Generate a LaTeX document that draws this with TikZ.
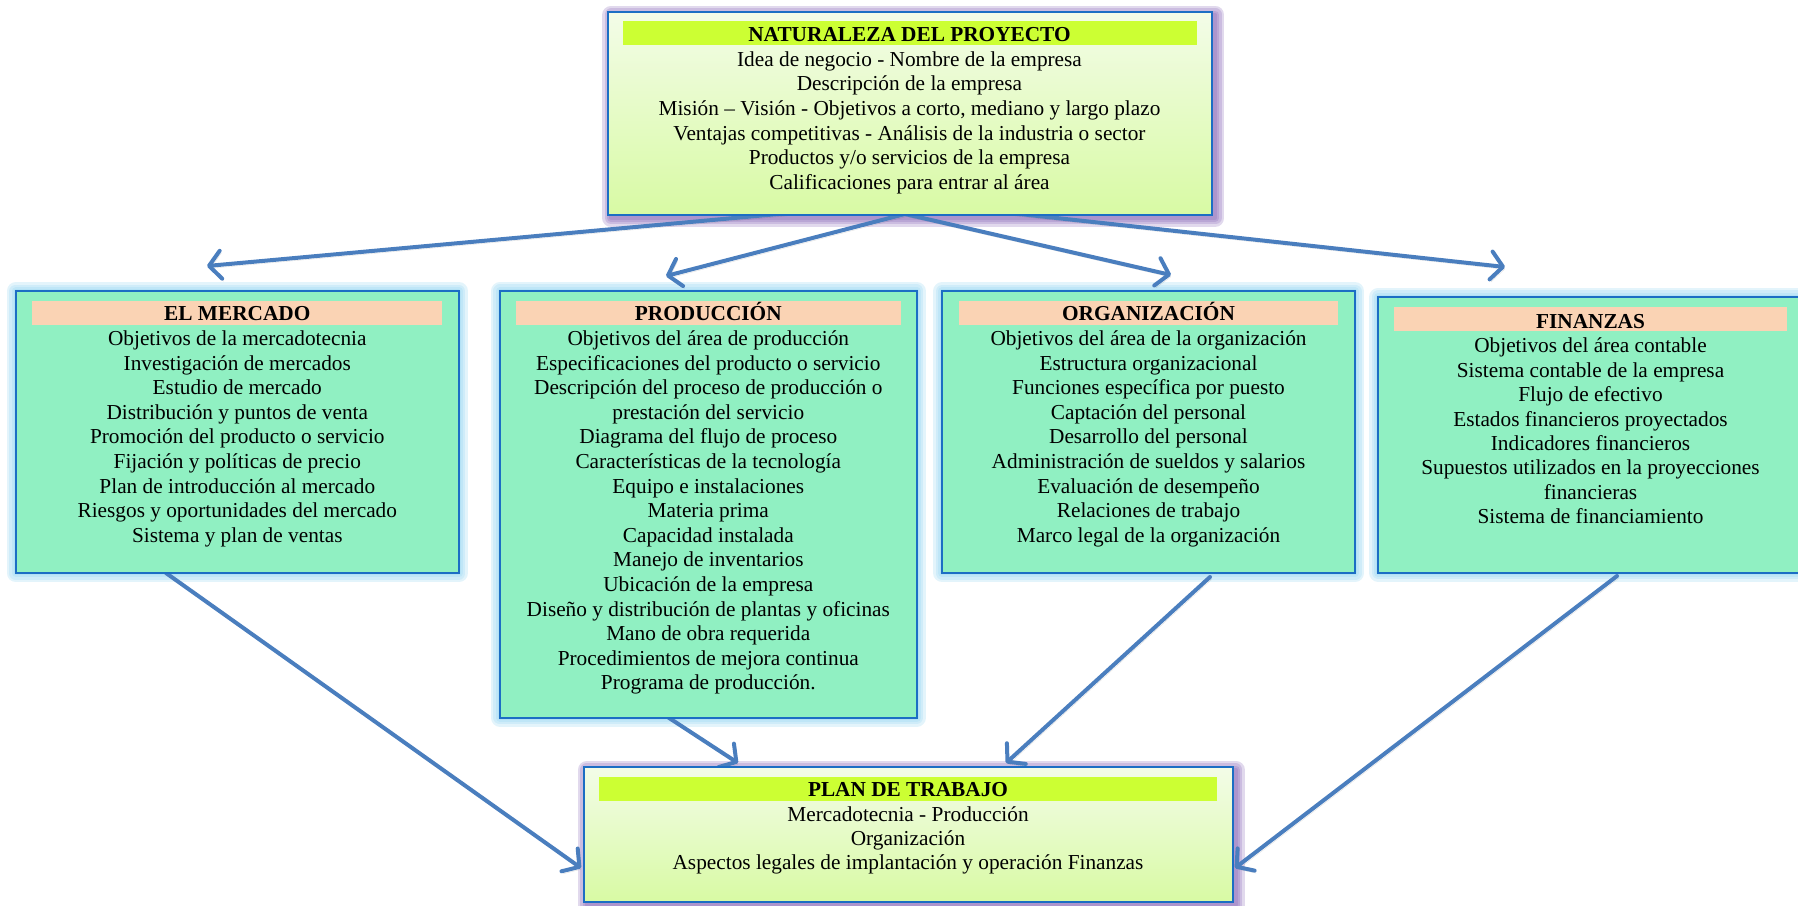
\documentclass[tikz,border=0pt]{standalone}
\usepackage{fontspec}
\setmainfont{Liberation Serif}
\usetikzlibrary{arrows.meta}
\definecolor{bord}{RGB}{28,110,196}
\definecolor{mint}{RGB}{144,240,194}
\definecolor{peach}{RGB}{250,211,180}
\definecolor{lime}{RGB}{204,255,51}
\definecolor{lighttop}{RGB}{243,252,232}
\definecolor{lightbot}{RGB}{216,250,164}
\definecolor{arrc}{RGB}{74,126,190}
\definecolor{glowc}{RGB}{140,210,240}
\definecolor{glowp}{RGB}{130,95,180}
\pgfdeclarelayer{glowl}
\pgfdeclarelayer{arrl}
\pgfsetlayers{glowl,arrl,main}
\newcommand{\boxfont}{\fontsize{21.3}{24.6}\selectfont}
\begin{document}
\begin{tikzpicture}[x=1pt, y=-1pt,
  box/.style={draw=bord, line width=1.8pt, inner sep=0pt, outer sep=0pt},
  midbox/.style={box, fill=mint},
  endbox/.style={box, top color=lighttop, bottom color=lightbot},
  bar/.style={inner sep=0pt, outer sep=0pt, minimum height=24pt},
  txt/.style={inner sep=0pt, anchor=north, align=center, font=\boxfont},
  arr/.style={draw=arrc, line width=4pt, line cap=round, line join=round,
    -{Straight Barb[length=12pt,width=28pt,round]},
    preaction={draw=black, opacity=0.12, transform canvas={shift={(1.5pt,-2.5pt)}}}},
  glowmid/.style={draw=glowc, opacity=0.24, line join=round},
  glowend/.style={draw=glowp, opacity=0.24, line join=round}
]
\useasboundingbox (0,0) rectangle (1798,905);
\clip (0,0) rectangle (1798,905);

% boxes
\node[endbox, minimum width=604pt, minimum height=203.3pt] (top) at (910.3,113.3) {};
\node[midbox, minimum width=443.3pt, minimum height=282.3pt] (merc) at (237.3,432.2) {};
\node[midbox, minimum width=416.7pt, minimum height=426.7pt] (prod) at (708.3,504.3) {};
\node[midbox, minimum width=412.7pt, minimum height=282.3pt] (orga) at (1148.7,432.2) {};
\node[midbox, minimum width=424.7pt, minimum height=276pt] (fina) at (1590.7,434.7) {};
\node[endbox, minimum width=648.7pt, minimum height=135pt] (plan) at (908.3,834.2) {};

% title bars
\node[bar, fill=lime, minimum width=573.7pt] (topT) at (909.8,33) {};
\node[bar, fill=peach, minimum width=410pt] (mercT) at (236.7,313) {};
\node[bar, fill=peach, minimum width=384.7pt] (prodT) at (708.3,313) {};
\node[bar, fill=peach, minimum width=379.3pt] (orgaT) at (1148.7,313) {};
\node[bar, fill=peach, minimum width=392.4pt, minimum height=23.7pt] (finaT) at (1590.5,319.2) {};
\node[bar, fill=lime, minimum width=617.4pt] (planT) at (908,789.3) {};

% texts
\node[txt] (topX) at (909.5,24.3) {\strut\smash{\textbf{NATURALEZA DEL PROYECTO}}\\
Idea de negocio - Nombre de la empresa\\
Descripción de la empresa\\
Misión – Visión - Objetivos a corto, mediano y largo plazo\\
Ventajas competitivas - Análisis de la industria o sector\\
Productos y/o servicios de la empresa\\
Calificaciones para entrar al área};

\node[txt] (mercX) at (237.3,303.5) {\strut\smash{\textbf{EL MERCADO}}\\
Objetivos de la mercadotecnia\\
Investigación de mercados\\
Estudio de mercado\\
Distribución y puntos de venta\\
Promoción del producto o servicio\\
Fijación y políticas de precio\\
Plan de introducción al mercado\\
Riesgos y oportunidades del mercado\\
Sistema y plan de ventas};

\node[txt] (prodX) at (708.3,303.5) {\strut\smash{\textbf{PRODUCCIÓN}}\\
Objetivos del área de producción\\
Especificaciones del producto o servicio\\
Descripción del proceso de producción o\\
prestación del servicio\\
Diagrama del flujo de proceso\\
Características de la tecnología\\
Equipo e instalaciones\\
Materia prima\\
Capacidad instalada\\
Manejo de inventarios\\
Ubicación de la empresa\\
Diseño y distribución de plantas y oficinas\\
Mano de obra requerida\\
Procedimientos de mejora continua\\
Programa de producción.};

\node[txt] (orgaX) at (1148.5,303.5) {\strut\smash{\textbf{ORGANIZACIÓN}}\\
Objetivos del área de la organización\\
Estructura organizacional\\
Funciones específica por puesto\\
Captación del personal\\
Desarrollo del personal\\
Administración de sueldos y salarios\\
Evaluación de desempeño\\
Relaciones de trabajo\\
Marco legal de la organización};

\node[txt, font=\fontsize{21.3}{24.4}\selectfont] (finaX) at (1590.5,311.2) {\strut\smash{\textbf{FINANZAS}}\\
Objetivos del área contable\\
Sistema contable de la empresa\\
Flujo de efectivo\\
Estados financieros proyectados\\
Indicadores financieros\\
Supuestos utilizados en la proyecciones\\
financieras\\
Sistema de financiamiento};

\node[txt, font=\fontsize{21.3}{24.4}\selectfont] (planX) at (908,779.5) {\strut\smash{\textbf{PLAN DE TRABAJO}}\\
Mercadotecnia - Producción\\
Organización\\
Aspectos legales de implantación y operación Finanzas};

% glows
\begin{pgfonlayer}{glowl}
\foreach \n in {merc,prod,orga,fina}{
  \foreach \w in {18,13,8,4}{
    \draw[glowmid, line width=\w pt] (\n.north west) rectangle (\n.south east);
  }
}
\foreach \n in {top,plan}{
  \foreach \w in {18,13,8,4}{
    \draw[glowend, line width=\w pt] ([shift={(3,3)}]\n.north west) rectangle ([shift={(3,3)}]\n.south east);
  }
}
\end{pgfonlayer}

% connectors
\coordinate (s1) at (910,202);
\coordinate (s2) at (905,214);
\coordinate (t1) at (207,266);
\coordinate (t2) at (666,276);
\coordinate (t3) at (1171,275);
\coordinate (t4) at (1505,267);
\coordinate (m1) at (166,573);
\coordinate (p1) at (660,712);
\coordinate (o1) at (1210,577);
\coordinate (f1) at (1617,576);
\coordinate (e1) at (581,868);
\coordinate (e2) at (738,763);
\coordinate (e3) at (1006,763);
\coordinate (e4) at (1235,868);
\begin{pgfonlayer}{arrl}
\draw[arr] (s1) -- (t1);
\draw[arr] (s2) -- (t2);
\draw[arr] (s2) -- (t3);
\draw[arr] (s1) -- (t4);
\draw[arr] (m1) -- (e1);
\draw[arr] (p1) -- (e2);
\draw[arr] (o1) -- (e3);
\draw[arr] (f1) -- (e4);
\end{pgfonlayer}
\end{tikzpicture}
\end{document}
